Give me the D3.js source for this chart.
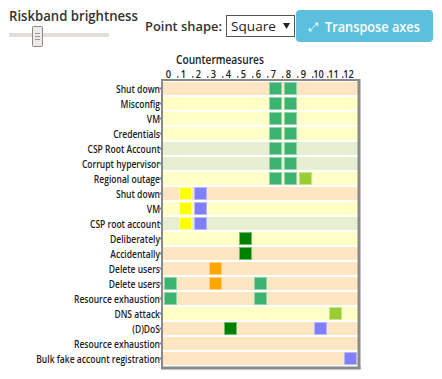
<!DOCTYPE html>
<html><head><meta charset="utf-8">
<script src="https://cdn.jsdelivr.net/npm/d3@7"></script>
<style>
html,body{margin:0;padding:0;background:#fff;}
svg{display:block;}
</style></head>
<body>
<svg id="c" width="442" height="379"></svg>
<script>
// ---------- data ----------
const rowLabels = ["Shut down","Misconfig","VM","Credentials","CSP Root Account","Corrupt hypervisor","Regional outage",
  "Shut down","VM","CSP root account","Deliberately","Accidentally","Delete users","Delete users",
  "Resource exhaustion","DNS attack","(D)DoS","Resource exhaustion","Bulk fake account registration"];
const rowBands = ["peach","yellow","yellow","yellow","green","green","yellow",
  "peach","yellow","green","yellow","peach","peach","peach","peach","yellow","peach","peach","peach"];
const colTicks = [0,1,2,3,4,5,6,7,8,9,10,11,12];
// points: [row, column, colour group]
const pointRows = [0,0,1,1,2,2,3,3,4,4,5,5,6,6,6,7,7,8,8,9,9,10,11,12,13,13,13,14,14,15,16,16,18];
const pointCols = [7,8,7,8,7,8,7,8,7,8,7,8,7,8,9,1,2,1,2,1,2,5,5,3,0,3,6,0,6,11,4,10,12];
const pointKind = ["sea","sea","sea","sea","sea","sea","sea","sea","sea","sea","sea","sea","sea","sea","lime",
  "yel","blu","yel","blu","yel","blu","dgr","dgr","org","sea","org","sea","sea","sea","lime","dgr","blu","blu"];
const bandColors = {peach:"#ffe6c3", yellow:"#ffffc6", green:"#e6f0d1"};
const kindFill = {sea:"#3cb371", lime:"#9acd32", yel:"#ffff00", blu:"#8080ff", dgr:"#008000", org:"#ffa500"};
const kindStroke = {sea:"#8fd6a8", lime:"#c8e58c", yel:"#ffff9a", blu:"#b8b8ff", dgr:"#6dbf6d", org:"#ffd080"};

const FONT = "'Open Sans',sans-serif";
const svg = d3.select("#c");

// place a horizontally condensed text so that its width equals targetW
function label(x, y, txt, size, weight, color, targetW){
  const t = svg.append("text").attr("font-family",FONT).attr("font-weight",weight)
    .attr("font-size",size).attr("fill",color).text(txt);
  const w = t.node().getComputedTextLength();
  const r = targetW ? targetW/w : 1;
  t.attr("transform",`translate(${x},${y}) scale(${r.toFixed(4)},1)`);
  return t;
}
function squeezeTicks(sel, r){
  sel.each(function(){
    const t = d3.select(this);
    const x0 = +t.attr("x") || 0;
    t.attr("x", x0/r).attr("transform",`scale(${r.toFixed(4)},1)`);
  });
}

// ---------- controls ----------
label(9,21,"Riskband brightness",14,600,"#333",129);
svg.append("rect").attr("x",9).attr("y",33).attr("width",100).attr("height",4).attr("fill","#e2ded8");
svg.append("rect").attr("x",32.5).attr("y",26.5).attr("width",10).attr("height",20).attr("rx",1)
  .attr("fill","#eeebe6").attr("stroke","#8a8a8a");
[33,36,39].forEach(y=>svg.append("line").attr("x1",35).attr("x2",40).attr("y1",y+0.5).attr("y2",y+0.5).attr("stroke","#999"));

label(145,31,"Point shape:",13,600,"#333",77);
svg.append("rect").attr("x",226.5).attr("y",15.5).attr("width",68).attr("height",21).attr("fill","#fff").attr("stroke","#555");
label(231,31,"Square",13.5,400,"#222",45);
svg.append("path").attr("d","M283,23 L290,23 L286.5,29 Z").attr("fill","#222");

svg.append("rect").attr("x",296).attr("y",10).attr("width",137).attr("height",32).attr("rx",4).attr("fill","#5bc0de");
svg.append("text").attr("x",309).attr("y",31).attr("font-family","'DejaVu Sans',sans-serif")
  .attr("font-size",12).attr("fill","#fff").text("⤢");
label(325,31.5,"Transpose axes",14,600,"#fff",95);

// ---------- chart ----------
const x = d3.scaleBand().domain(colTicks).range([163,358]);
const y = d3.scaleBand().domain(d3.range(rowLabels.length)).range([81,366]);

const g = svg.append("g");
g.selectAll("rect.band").data(rowBands).join("rect").attr("class","band")
  .attr("x",163).attr("width",195)
  .attr("y",(d,i)=>y(i)+1).attr("height",y.bandwidth()-2)
  .attr("fill",d=>bandColors[d]);

const pts = pointRows.map((r,i)=>({r, c:pointCols[i], k:pointKind[i]}));
g.selectAll("rect.pt").data(pts).join("rect").attr("class","pt")
  .attr("x",d=>x(d.c)+1.5).attr("y",d=>y(d.r)+1.5)
  .attr("width",x.bandwidth()-3).attr("height",y.bandwidth()-3)
  .attr("fill",d=>kindFill[d.k]).attr("stroke",d=>kindStroke[d.k]).attr("stroke-width",1);

// frame
svg.append("line").attr("x1",161).attr("x2",359).attr("y1",80).attr("y2",80).attr("stroke","#8a8a8a").attr("stroke-width",2);
svg.append("line").attr("x1",162).attr("x2",162).attr("y1",79).attr("y2",368).attr("stroke","#8a8a8a").attr("stroke-width",2);
svg.append("line").attr("x1",359).attr("x2",359).attr("y1",79).attr("y2",369).attr("stroke","#8a8a8a").attr("stroke-width",3);
svg.append("line").attr("x1",161).attr("x2",360.5).attr("y1",368).attr("y2",368).attr("stroke","#8a8a8a").attr("stroke-width",3);

// top axis
const xAxis = d3.axisTop(x).tickSize(0).tickPadding(0);
const gx = svg.append("g").attr("transform","translate(-2,78)").call(xAxis);
gx.select(".domain").remove();
gx.selectAll("text").attr("font-family",FONT).attr("font-weight",600).attr("font-size",10.5).attr("fill","#222");
squeezeTicks(gx.selectAll(".tick text"),0.88);
// tiny ticks at band boundaries
svg.append("g").selectAll("rect").data(colTicks.slice(1)).join("rect")
  .attr("x",d=>x(d)-1).attr("y",76).attr("width",1.5).attr("height",2).attr("fill","#777");

label(176,63.5,"Countermeasures",12,600,"#222",88);

// left axis labels
const yAxis = d3.axisLeft(y).tickSize(0).tickPadding(3).tickFormat(i=>rowLabels[i]);
const gy = svg.append("g").attr("transform","translate(163,0.5)").call(yAxis);
gy.select(".domain").remove();
gy.selectAll("text").attr("font-family",FONT).attr("font-weight",600).attr("font-size",11).attr("fill","#222");
const longest = gy.selectAll(".tick text").filter((d,i)=>i===18);
const ratio = 124/longest.node().getComputedTextLength();
squeezeTicks(gy.selectAll(".tick text"),ratio);
svg.append("g").selectAll("rect").data(d3.range(rowLabels.length)).join("rect")
  .attr("x",159.5).attr("y",d=>y(d)+y.bandwidth()/2-1).attr("width",1.5).attr("height",2).attr("fill","#5a8fc8");
</script>
</body></html>
